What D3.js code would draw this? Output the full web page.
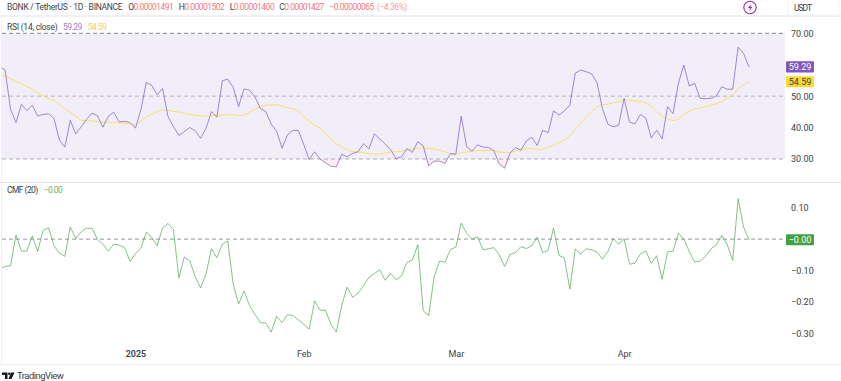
<!DOCTYPE html>
<html>
<head>
<meta charset="utf-8">
<script src="https://cdn.jsdelivr.net/npm/d3@7"></script>
<style>
  html, body { margin: 0; padding: 0; background: #fff; }
  svg { display: block; }
  text { font-family: Roboto, "Liberation Sans", sans-serif; }
</style>
</head>
<body>
<div id="chart"></div>
<script>
const firstDay = new Date(2024, 11, 7)
const lastDay = new Date(2025, 3, 24)

const rsiValues = [
  59.4, 58.3, 45.8, 41.6, 47.4, 45.4, 47.1, 43.7, 44.2, 44.4,
  42.9, 36.0, 33.8, 42.3, 38.0, 40.2, 42.6, 44.6, 43.8, 40.1,
  43.6, 44.9, 41.8, 42.0, 41.6, 39.8, 45.6, 54.4, 53.4, 50.5,
  52.4, 43.5, 40.3, 37.5, 38.7, 40.0, 39.0, 36.6, 39.8, 45.1,
  43.3, 54.9, 55.4, 52.8, 46.7, 52.3, 51.9, 49.8, 46.1, 45.1,
  41.1, 38.9, 33.4, 37.7, 39.1, 39.1, 34.6, 29.8, 32.3, 30.0,
  28.8, 27.7, 27.5, 31.5, 30.7, 31.8, 32.3, 34.9, 33.2, 38.0,
  36.4, 34.8, 33.0, 30.1, 30.7, 33.3, 32.1, 35.5, 34.2, 27.8,
  29.3, 29.3, 28.6, 31.7, 31.5, 43.6, 33.9, 32.5, 34.5, 33.8,
  33.7, 32.7, 28.4, 27.1, 31.9, 33.6, 32.8, 35.8, 36.9, 34.3,
  39.1, 38.4, 45.3, 44.0, 45.3, 47.1, 57.3, 58.3, 57.8, 57.1,
  54.4, 46.1, 41.1, 40.2, 40.8, 49.3, 41.7, 41.2, 44.2, 43.0,
  36.7, 39.2, 36.4, 46.7, 44.4, 54.1, 59.9, 53.2, 54.1, 49.3,
  49.2, 49.3, 50.1, 53.0, 52.2, 52.2, 65.6, 63.6, 59.29
]

const rsiMaValues = [
  57.0, 56.4, 55.6, 54.6, 54.0, 53.1, 52.2, 51.0, 50.1, 49.2,
  48.6, 47.4, 45.9, 44.9, 43.6, 42.3, 42.2, 42.1, 41.9, 41.8,
  41.7, 41.6, 41.5, 41.4, 41.1, 41.0, 41.9, 43.3, 44.2, 45.1,
  45.6, 45.5, 45.2, 44.9, 44.5, 44.2, 43.9, 43.7, 43.6, 43.7,
  44.0, 44.0, 44.1, 44.1, 43.9, 44.0, 44.9, 45.8, 46.7, 47.1,
  47.2, 47.3, 46.9, 46.3, 46.0, 45.3, 43.5, 42.0, 40.8, 39.8,
  38.2, 36.3, 34.9, 33.8, 33.0, 32.4, 32.2, 32.0, 31.7, 31.5,
  31.6, 31.9, 32.2, 32.3, 32.5, 33.0, 33.1, 33.4, 33.6, 33.4,
  33.2, 32.8, 32.3, 31.8, 31.5, 32.0, 32.2, 32.4, 32.7, 32.7,
  32.7, 32.7, 32.2, 32.1, 32.1, 32.5, 33.0, 33.2, 33.4, 32.9,
  33.1, 33.7, 34.4, 35.2, 36.0, 37.3, 39.4, 41.6, 43.3, 45.0,
  46.7, 47.3, 47.4, 47.9, 48.2, 48.8, 48.7, 48.5, 48.4, 47.9,
  46.7, 45.1, 43.8, 42.8, 42.2, 42.6, 44.2, 45.1, 46.1, 46.1,
  46.6, 47.2, 47.6, 48.4, 49.3, 50.4, 52.4, 53.6, 54.59
]

const cmfValues = [
  -0.095, -0.087, -0.085, 0.013, -0.038, -0.038, 0.010, -0.039, 0.028, 0.036,
  -0.021, -0.045, -0.055, 0.039, 0.002, 0.023, 0.035, 0.034, 0.000, -0.016,
  -0.038, -0.016, -0.019, -0.027, -0.071, -0.047, -0.029, 0.023, 0.005, -0.021,
  0.036, 0.050, 0.030, -0.124, -0.057, -0.069, -0.119, -0.156, -0.111, -0.031,
  -0.059, -0.016, -0.006, -0.143, -0.207, -0.165, -0.212, -0.239, -0.266, -0.267,
  -0.296, -0.246, -0.266, -0.241, -0.243, -0.257, -0.271, -0.287, -0.197, -0.226,
  -0.227, -0.271, -0.296, -0.210, -0.153, -0.185, -0.172, -0.148, -0.122, -0.110,
  -0.098, -0.131, -0.110, -0.129, -0.117, -0.074, -0.067, -0.018, -0.228, -0.244,
  -0.121, -0.070, -0.074, -0.033, -0.026, 0.051, 0.019, 0.000, 0.007, -0.034,
  -0.031, -0.027, -0.050, -0.087, -0.049, -0.043, -0.024, -0.030, -0.021, 0.006,
  -0.043, -0.036, 0.035, -0.052, -0.060, -0.159, -0.032, -0.048, -0.031, -0.034,
  -0.041, -0.064, -0.040, 0.001, -0.016, 0.001, -0.080, -0.077, -0.047, -0.038,
  -0.077, -0.053, -0.128, -0.041, -0.039, 0.019, 0.000, -0.039, -0.073, -0.070,
  -0.055, -0.031, -0.018, 0.012, -0.018, -0.068, 0.129, 0.038, -0.002
]

const rsiTicks = [70, 50, 40, 30]
const rsiLevels = [70, 50, 30]
const cmfTicks = [0.1, -0.1, -0.2, -0.3]
const monthTicks = [new Date(2025, 0, 1), new Date(2025, 1, 1), new Date(2025, 2, 1), new Date(2025, 3, 1)]
const monthLabels = ["2025", "Feb", "Mar", "Apr"]

const canvas = { width: 841, height: 381, left: 2, right: 785 }
const purple = "#7e57c2", yellow = "#fdd835", green = "#43a047", red = "#f7525f", grey = "#787b86", ink = "#3a3e4a"
const labelSize = 8.5, axisSize = 9

const svg = d3.select("#chart").append("svg").attr("width", canvas.width).attr("height", canvas.height)

const xScale = d3.scaleTime().domain([firstDay, lastDay]).range([-0.3, 749])
const rsiScale = d3.scaleLinear().domain([30, 70]).range([159, 33.3])
const cmfScale = d3.scaleLinear().domain([-0.3, 0.1]).range([333.3, 207.7])
const dayOf = i => d3.timeDay.offset(firstDay, i)

svg.append("clipPath").attr("id", "plot").append("rect")
  .attr("x", canvas.left).attr("y", 17).attr("width", canvas.right - canvas.left).attr("height", 346)
svg.append("clipPath").attr("id", "below30").append("rect")
  .attr("x", canvas.left).attr("y", rsiScale(30)).attr("width", canvas.right - canvas.left).attr("height", 23)

drawFrame()
drawHeader()
drawRsiPanel()
drawCmfPanel()
drawTimeAxis()
drawLogo()

// spacing is fitted to the width the text has in the screenshot
function addLabel(x1, x2, y, label, color, opacity = 1){
  return svg.append("text").attr("x", x1).attr("y", y).attr("font-size", labelSize)
    .attr("fill", color).attr("fill-opacity", opacity)
    .attr("textLength", x2 - x1).attr("lengthAdjust", "spacing").text(label)
}

function addOhlc(x1, x2, letter, value){
  const label = addLabel(x1, x2, 9.5, letter, ink)
  label.append("tspan").attr("fill", red).attr("fill-opacity", 0.85).text(value)
}

function drawFrame(){
  const frame = svg.append("g").attr("stroke", "#e0e3eb").attr("stroke-width", 1)
  frame.append("line").attr("x1", 0).attr("x2", canvas.width).attr("y1", 16).attr("y2", 16)
  frame.append("line").attr("x1", 0).attr("x2", canvas.width).attr("y1", 182.5).attr("y2", 182.5)
  frame.append("line").attr("x1", 0).attr("x2", canvas.width).attr("y1", 364.5).attr("y2", 364.5).attr("stroke", "#eef0f4")
  frame.append("line").attr("x1", 1.5).attr("x2", 1.5).attr("y1", 16).attr("y2", 364).attr("stroke", "#eef0f4")
}

function drawHeader(){
  addLabel(7, 122.7, 9.5, "BONK / TetherUS · 1D · BINANCE", ink)

  addOhlc(128.3, 173.7, "O", "0.00001491")
  addOhlc(178.7, 224.7, "H", "0.00001502")
  addOhlc(229.7, 274.7, "L", "0.00001400")
  addOhlc(279.3, 324.3, "C", "0.00001427")
  addLabel(329.3, 374.3, 9.5, "−0.00000065", red, 0.85)
  addLabel(377, 407.3, 9.5, "(−4.36%)", red, 0.65)

  svg.append("circle").attr("cx", 750).attr("cy", 7.5).attr("r", 6.2)
    .attr("fill", "none").attr("stroke", "#9c27b0").attr("stroke-width", 1.1)
  svg.append("path").attr("d", "M751.5 3.5 L748 8 L750.2 8 L749 11.5 L752.5 6.8 L750.2 6.8 Z").attr("fill", "#9c27b0")

  svg.append("rect").attr("x", 788).attr("y", -1).attr("width", 51).attr("height", 16).attr("fill", "#fff").attr("stroke", "#f0f3fa")
  addLabel(794, 812, 11, "USDT", ink)
}

function drawRsiPanel(){
  addLabel(7, 57.7, 29.5, "RSI (14, close)", ink)
  addLabel(63, 82.3, 29.5, "59.29", purple, 0.8)
  addLabel(87.7, 107, 29.5, "54.59", "#fbc02d", 0.85)

  svg.append("rect").attr("x", canvas.left).attr("width", canvas.right - canvas.left)
    .attr("y", rsiScale(70)).attr("height", rsiScale(30) - rsiScale(70))
    .attr("fill", purple).attr("fill-opacity", 0.1)

  // faint pink where RSI drops under 30
  const oversold = d3.area().x((d, i) => xScale(dayOf(i))).y0(rsiScale(30)).y1(d => rsiScale(d))
  svg.append("path").datum(rsiValues).attr("clip-path", "url(#below30)")
    .attr("fill", red).attr("fill-opacity", 0.1).attr("d", oversold)

  svg.append("g").selectAll("line").data(rsiLevels).join("line")
    .attr("x1", canvas.left).attr("x2", canvas.right)
    .attr("y1", d => rsiScale(d)).attr("y2", d => rsiScale(d))
    .attr("stroke", grey)
    .attr("stroke-opacity", d => d == 70 ? 0.9 : d == 50 ? 0.5 : 0.4)
    .attr("stroke-width", d => d == 30 ? 1.5 : 1)
    .attr("stroke-dasharray", "4 3")

  addLine(rsiMaValues, rsiScale, yellow, 0.75)
  addLine(rsiValues, rsiScale, purple, 0.7)
  addAxis(rsiScale, rsiTicks, d3.format(".2f"))

  addTag(rsiValues.at(-1), rsiScale, "59.29", purple, "#fff")
  addTag(rsiMaValues.at(-1), rsiScale, "54.59", yellow, ink)
}

function drawCmfPanel(){
  addLabel(7, 38.3, 192.5, "CMF (20)", ink)
  addLabel(43.7, 62.7, 192.5, "−0.00", green, 0.85)

  svg.append("line").attr("x1", canvas.left).attr("x2", canvas.right)
    .attr("y1", cmfScale(0)).attr("y2", cmfScale(0))
    .attr("stroke", grey).attr("stroke-opacity", 0.8).attr("stroke-dasharray", "4 3")

  addLine(cmfValues, cmfScale, green, 0.65)
  addAxis(cmfScale, cmfTicks, d => d3.format(".2f")(d).replace("-", "−"))
  addTag(cmfValues.at(-1), cmfScale, "−0.00", green, "#fff")
}

function addLine(values, scale, color, opacity){
  const line = d3.line().x((d, i) => xScale(dayOf(i))).y(d => scale(d))
  svg.append("path").datum(values).attr("clip-path", "url(#plot)")
    .attr("fill", "none").attr("stroke", color).attr("stroke-opacity", opacity)
    .attr("stroke-width", 1).attr("stroke-linejoin", "round").attr("d", line)
}

function addAxis(scale, ticks, format){
  const axis = svg.append("g").attr("transform", `translate(${canvas.right},0)`)
    .call(d3.axisRight(scale).tickValues(ticks).tickFormat(format).tickSize(0).tickPadding(6))
  axis.select(".domain").remove()
  axis.selectAll("text").attr("font-family", "Roboto, sans-serif").attr("font-size", axisSize).attr("fill", ink)
}

function addTag(value, scale, label, color, textColor){
  const y = scale(value)
  svg.append("rect").attr("x", 786).attr("y", y - 5.6).attr("width", 28).attr("height", 11.2)
    .attr("fill", color).attr("rx", 1)
  svg.append("text").attr("x", 800).attr("y", y + 3.2).attr("text-anchor", "middle")
    .attr("font-size", axisSize).attr("fill", textColor).text(label)
}

function drawTimeAxis(){
  const axis = svg.append("g").attr("transform", "translate(0,347)")
    .call(d3.axisBottom(xScale).tickValues(monthTicks).tickFormat((d, i) => monthLabels[i]).tickSize(0).tickPadding(4))
  axis.select(".domain").remove()
  axis.selectAll("text").attr("font-family", "Roboto, sans-serif").attr("font-size", axisSize).attr("fill", ink)
    .attr("font-weight", (d, i) => i == 0 ? 600 : 400)
}

function drawLogo(){
  const logo = svg.append("g").attr("fill", "#131722")
  logo.append("path").attr("d", "M2 372.5 H7.5 V379 H5 V375 H2 Z")
  logo.append("circle").attr("cx", 9.2).attr("cy", 373.8).attr("r", 1.2)
  logo.append("path").attr("d", "M11 372.5 H14.5 L11.5 379 H8.5 Z")
  svg.append("text").attr("x", 17).attr("y", 379).attr("font-size", 9.5)
    .attr("fill", ink).attr("textLength", 47).attr("lengthAdjust", "spacing").text("TradingView")
}
</script>
</body>
</html>
